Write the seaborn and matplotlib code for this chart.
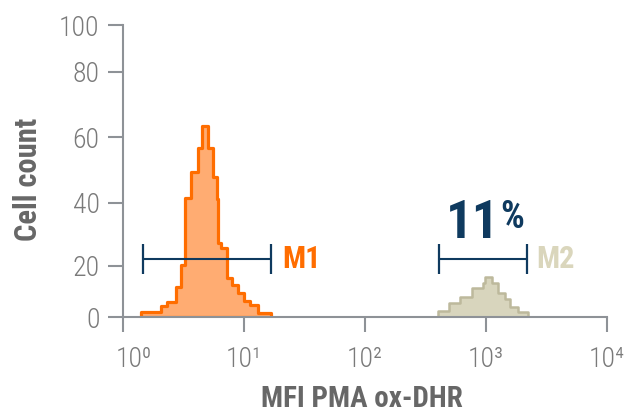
import numpy as np
import pandas as pd
import seaborn as sns
import matplotlib.pyplot as plt
from matplotlib.transforms import ScaledTranslation

# M1 population (orange): bin edges (MFI) and cell counts per bin
m1_edges = [1.40, 2.05, 2.31, 2.72, 2.99, 3.24, 3.63, 4.13, 4.46, 5.00, 5.56,
            5.93, 6.12, 6.44, 7.18, 7.90, 8.95, 10.04, 11.19, 13.11, 16.70]
m1_counts = [2.1, 4.4, 6.0, 11.9, 20.3, 41.4, 49.5, 56.8, 63.5, 56.6,
             48.0, 41.0, 27.2, 25.6, 15.2, 12.5, 9.3, 6.3, 4.7, 1.5]

# M2 population (beige)
m2_edges = [405, 497, 613, 766, 955, 987, 1121, 1272, 1445, 1589, 1862, 2252]
m2_counts = [2.6, 5.7, 7.8, 11.5, 13.4, 15.7, 13.2, 9.3, 7.0, 4.1, 2.2]

# gates (MFI range) and their labels
gate_names = ["M1", "M2"]
gate_lo = [1.45, 410]
gate_hi = [16.6, 2210]
gate_y = 22.1
gate_pct = "11"

y_ticks = [0, 20, 40, 60, 80, 100]
# the original y axis is not evenly spaced; tick positions in axis units
y_tick_pos = [0, 51.6, 114.6, 180.0, 245.6, 292.3]
x_ticks = [1, 10, 100, 1000, 10000]
x_tick_labels = ["10\u2070", "10\u00b9", "10\u00b2", "10\u00b3", "10\u2074"]

ORANGE_FILL = "#FFAC72"
ORANGE_EDGE = "#FF6D00"
BEIGE_FILL = "#D8D5BD"
BEIGE_EDGE = "#BDB99C"
BEIGE_TEXT = "#DAD6BC"
NAVY = "#0F3A5F"
AXIS = "#8E9297"
TICK_TXT = "#7A7A7A"
LABEL_TXT = "#676767"

FONTS = ["Roboto Condensed", "Roboto", "DejaVu Sans"]

sns.set_theme(style="white")
plt.rcParams["font.family"] = FONTS

fig = plt.figure(figsize=(6.29, 4.16), dpi=100)
ax = fig.add_axes([0.196, 0.2373, 0.7685, 0.7026])

m1 = pd.DataFrame({"mfi": np.sqrt(np.array(m1_edges[:-1]) * np.array(m1_edges[1:])),
                   "count": m1_counts})
m2 = pd.DataFrame({"mfi": np.sqrt(np.array(m2_edges[:-1]) * np.array(m2_edges[1:])),
                   "count": m2_counts})

sns.histplot(data=m1, x="mfi", weights="count", bins=list(np.log10(m1_edges)),
             log_scale=True, element="step", fill=True,
             facecolor=ORANGE_FILL, edgecolor=ORANGE_EDGE, linewidth=2.3,
             alpha=1, ax=ax)
sns.histplot(data=m2, x="mfi", weights="count", bins=list(np.log10(m2_edges)),
             log_scale=True, element="step", fill=True,
             facecolor=BEIGE_FILL, edgecolor=BEIGE_EDGE, linewidth=1.8,
             alpha=1, ax=ax)

# piecewise y scale to follow the uneven tick spacing
def fwd(v):
    return np.interp(v, y_ticks, y_tick_pos)

def inv(p):
    return np.interp(p, y_tick_pos, y_ticks)

ax.set_yscale("function", functions=(fwd, inv))
ax.set_ylim(0, 100)
ax.set_xlim(1, 10000)

# gates
for lo, hi in zip(gate_lo, gate_hi):
    ax.plot([lo, hi], [gate_y, gate_y], color=NAVY, lw=1.5,
            marker="|", markersize=21, mew=1.6, zorder=4)
ax.text(20.5, gate_y, gate_names[0], color=ORANGE_EDGE, fontsize=22,
        fontweight="bold", ha="left", va="center")
ax.text(2600, gate_y, gate_names[1], color=BEIGE_TEXT, fontsize=22,
        fontweight="bold", ha="left", va="center")
ax.text(1290, 28.8, gate_pct, color=NAVY, fontsize=38, fontweight="bold",
        ha="right", va="baseline")
ax.text(1320, 41.0, "%", color=NAVY, fontsize=27, fontweight="bold",
        ha="left", va="top")

ax.set_yticks(y_ticks)
ax.set_yticklabels([str(t) for t in y_ticks], fontweight="light")
ax.set_xticks(x_ticks)
ax.set_xticklabels(x_tick_labels, fontweight="light")
ax.minorticks_off()

for side in ["top", "right"]:
    ax.spines[side].set_visible(False)
for side in ["left", "bottom"]:
    ax.spines[side].set_color(AXIS)
    ax.spines[side].set_linewidth(1.5)
    ax.spines[side].set_zorder(5)

ax.tick_params(axis="y", length=11, width=1.5, color=AXIS, labelcolor=TICK_TXT,
               labelsize=20, pad=6, left=True)
ax.tick_params(axis="x", length=11, width=1.5, color=AXIS, labelcolor=TICK_TXT,
               labelsize=20, pad=10, bottom=True)

# first x label sits a bit right of its tick, clear of the y axis
first = ax.get_xticklabels()[0]
first.set_transform(first.get_transform() + ScaledTranslation(0.10, 0, fig.dpi_scale_trans))

ax.set_ylabel("Cell count", fontsize=22, fontweight="bold", color=LABEL_TXT)
ax.yaxis.label.set_va("center")
ax.yaxis.set_label_coords(-0.197, 0.473)
ax.set_xlabel("MFI PMA ox-DHR", fontsize=21, fontweight="bold", color=LABEL_TXT)
ax.xaxis.label.set_va("center")
ax.xaxis.set_label_coords(0.493, -0.281)

fig.savefig("out.png", dpi=100)
